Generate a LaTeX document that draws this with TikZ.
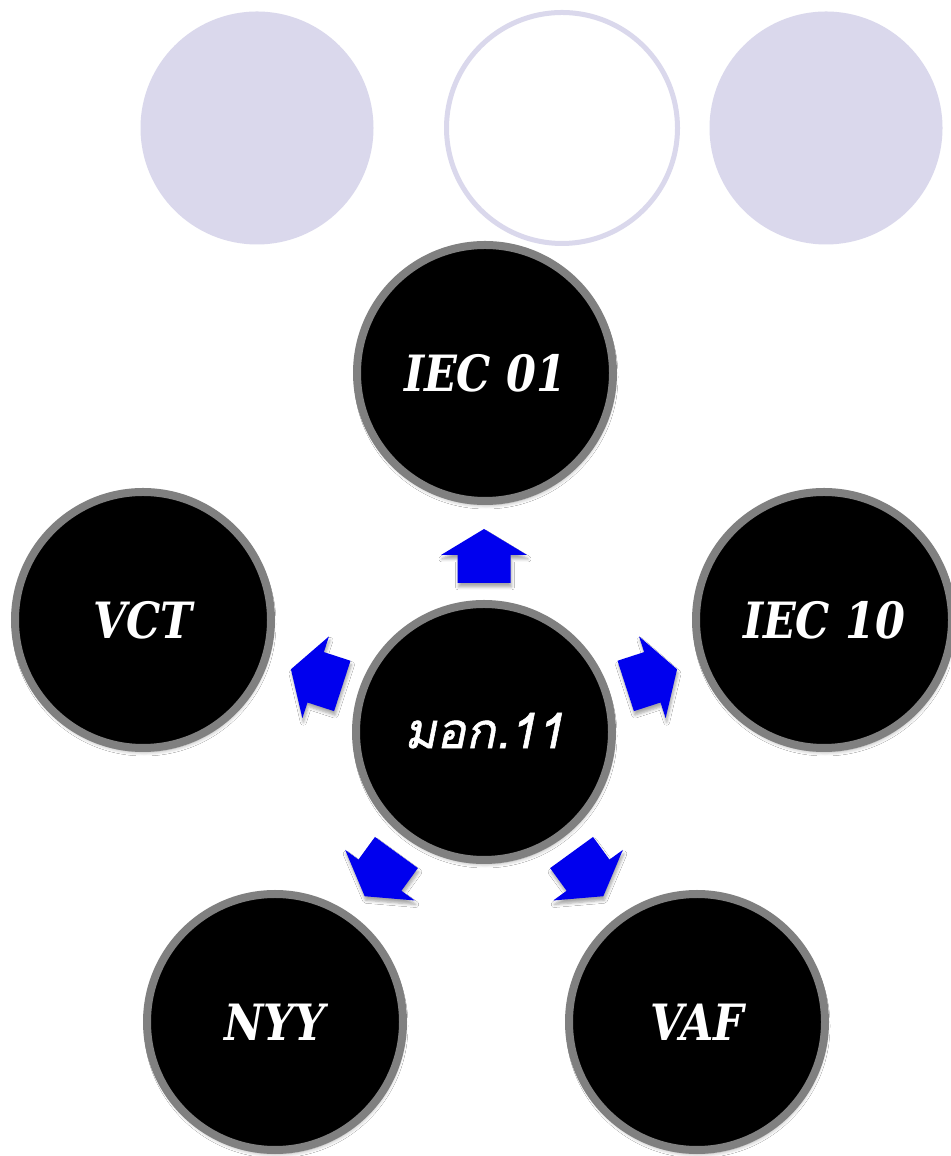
\documentclass[tikz,border=0pt]{standalone}
\usepackage{fontspec}
\usetikzlibrary{shadows.blur}
\newfontfamily\labelfont[FakeStretch=0.86]{DejaVu Serif}
\newfontfamily\thaifont[Script=Thai,FakeSlant=0.2,FakeBold=1.2]{Loma}
\definecolor{lavender}{RGB}{218,216,236}
\definecolor{ringgray}{RGB}{128,128,128}
\definecolor{arrowblue}{RGB}{0,0,238}
\tikzset{
  softdisc/.style={circle, fill=lavender, minimum size=233pt, inner sep=0pt},
  softring/.style={circle, draw=lavender, line width=5pt, fill=white, minimum size=231pt, inner sep=0pt},
  hub/.style={circle, fill=black, draw=ringgray, line width=8pt, minimum size=256pt, inner sep=0pt,
    text=white,
    blur shadow={shadow xshift=1pt, shadow yshift=-4pt, shadow blur steps=6, shadow blur radius=4pt, shadow opacity=35}},
  latinlabel/.style={font=\labelfont\bfseries\itshape\fontsize{50}{56}\selectfont},
  thailabel/.style={font=\thaifont\fontsize{49}{58}\selectfont},
  blockarrow/.style={fill=arrowblue,
    blur shadow={shadow xshift=1pt, shadow yshift=-4pt, shadow blur steps=5, shadow blur radius=3pt, shadow opacity=35}}
}
\begin{document}
\begin{tikzpicture}[x=1pt,y=1pt]
\useasboundingbox (0,0) rectangle (950,1156);
\fill[white] (0,0) rectangle (950,1156);

% decorative discs along the top
\node[softdisc] (d1) at (257,1028) {};
\node[softring] (d2) at (562,1028) {};
\node[softdisc] (d3) at (826,1028) {};

% hub and its five satellites on a pentagon
\node[hub, thailabel] (c) at (484,424) {\raisebox{3pt}{มอก.11}};
\node[hub, latinlabel] (s1) at (485,783) {IEC 01};
\node[hub, latinlabel] (s2) at (143,536) {VCT};
\node[hub, latinlabel] (s3) at (824,536) {IEC 10};
\node[hub, latinlabel] (s4) at (275,134) {NYY};
\node[hub, latinlabel] (s5) at (697,134) {VAF};

% block arrows pointing outward from the hub
\foreach \ang in {90,162,18,234,306}{
  \path[blockarrow, shift={(c.center)}, rotate=\ang]
    (149,-26.5) -- (177,-26.5) -- (177,-43) -- (203,0) -- (177,43) -- (177,26.5) -- (149,26.5) -- cycle;
}
\end{tikzpicture}
\end{document}
